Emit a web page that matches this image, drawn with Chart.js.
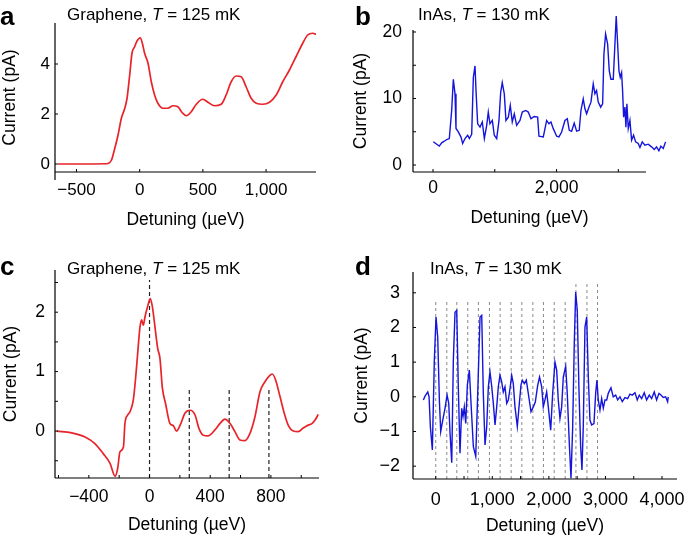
<!DOCTYPE html>
<html><head><meta charset="utf-8">
<script src="https://cdn.jsdelivr.net/npm/chart.js@4.4.0/dist/chart.umd.min.js"></script>
<style>
body{margin:0;background:#fff;width:685px;height:535px;position:relative;overflow:hidden;font-family:"Liberation Sans",Arial,sans-serif;color:#000;}
canvas{position:absolute;}
.lbl{position:absolute;font-weight:bold;font-size:26px;line-height:1;}
.ttl{position:absolute;font-size:17px;line-height:1;white-space:nowrap;}
</style></head><body>
<canvas id="ca" width="335" height="240" style="left:0;top:0"></canvas>
<canvas id="cb" width="345" height="240" style="left:340px;top:0"></canvas>
<canvas id="cc" width="335" height="285" style="left:0;top:250px"></canvas>
<canvas id="cd" width="345" height="285" style="left:340px;top:250px"></canvas>
<div class="lbl" style="left:0;top:3px">a</div>
<div class="ttl" style="left:67px;top:6px">Graphene, <i>T</i> = 125 mK</div>
<div class="lbl" style="left:355px;top:3px">b</div>
<div class="ttl" style="left:418px;top:6px">InAs, <i>T</i> = 130 mK</div>
<div class="lbl" style="left:0;top:253px">c</div>
<div class="ttl" style="left:67px;top:260px">Graphene, <i>T</i> = 125 mK</div>
<div class="lbl" style="left:355px;top:253px">d</div>
<div class="ttl" style="left:430px;top:260px">InAs, <i>T</i> = 130 mK</div>
<script>
// ---- Panel a: Graphene ----
const aDetuning = [-645,-263,-223,-197,-171,-145,-118,-100,-79,-61,-40,-21,5,21,39,66,92,118,144,184,223,263,302,337,369,408,448,500,540,592,645,684,724,763,803,842,882,922,975,1027,1080,1132,1185,1237,1290,1329,1369,1395];
const aCurrent = [0,0.01,0.16,0.63,1.16,1.83,2.23,2.63,3.56,4.43,4.69,4.92,5.05,4.83,4.43,4.03,3.29,2.76,2.43,2.23,2.23,2.33,2.29,2.05,1.93,2.09,2.39,2.59,2.47,2.33,2.39,2.76,3.29,3.52,3.49,3.09,2.63,2.43,2.39,2.47,2.76,3.29,3.76,4.29,4.83,5.16,5.23,5.19];
const aXTicks = [-500,0,500,1000];
const aXLabels = [-500,0,500,1000];
const aYTicks = [0,2,4];
const aYLabels = [0,2,4];

// ---- Panel b: InAs ----
const bDetuning = [5,60,102,140,183,221,264,302,329,356,372,410,453,480,518,561,588,626,653,680,696,723,761,798,831,869,895,922,960,992,1031,1068,1095,1121,1154,1181,1219,1251,1283,1316,1354,1408,1445,1500,1542,1586,1639,1694,1715,1785,1840,1877,1909,1947,2002,2039,2082,2136,2174,2206,2244,2286,2325,2367,2395,2432,2460,2487,2524,2557,2594,2621,2648,2675,2714,2746,2767,2794,2827,2853,2880,2918,2945,2966,2989,3010,3031,3053,3069,3086,3107,3123,3139,3161,3188,3215,3247,3280,3322,3350,3387,3430,3484,3538,3581,3619,3657,3689,3727,3765];
const bCurrent = [3.5,3.13,2.84,3.33,3.58,3.83,3.98,8.2,12.9,10.7,5.5,4.97,4.2,3.23,3.98,4.48,3.98,4.63,13.2,14.9,11.2,6.2,5.7,6.47,3.98,5.97,7.96,6.2,6.7,4.48,3.98,6.7,10.9,12.4,10.7,6.7,7.2,8.96,6.47,7.7,5.97,6.7,7.96,8.2,7.96,6.97,7.3,7.2,4.33,4.23,6.7,6.2,6.47,5.47,4.33,4.23,4.97,6.7,6.97,5.22,5.07,6.3,5.1,5.22,8.2,9.96,8.46,7.7,8.7,9.45,12.2,10.7,11.2,9.45,8.7,9.2,16.7,19.7,18.2,14.2,12.9,12.9,18.2,22.4,18.2,14.2,13.2,13.9,11.2,7.2,8.7,5.7,9.2,5.47,6.7,3.73,4.48,3.48,3.23,2.64,3.48,2.98,3.13,2.73,2.34,2.73,2.14,2.84,2.49,3.48];
const bXTicks = [0,1000,2000,3000];
const bXLabels = [0,2000];
const bYTicks = [0,5,10,15,20];
const bYLabels = [0,10,20];

// ---- Panel c: Graphene (background subtracted) ----
const cDetuning = [-611,-513,-425,-360,-305,-261,-227,-210,-195,-172,-162,-144,-128,-107,-91,-73,-63,-52,-41,-30,-13,5,19,36,54,69,84,106,134,157,178,207,233,267,300,325,354,387,431,465,497,530,563,596,629,662,695,728,761,787,809,831,860,888,914,948,980,1013,1046,1068,1090,1112];
const cCurrent = [0.0,-0.03,-0.1,-0.21,-0.38,-0.54,-0.76,-0.63,-0.35,-0.27,0.13,0.27,0.33,0.52,0.91,1.47,1.75,1.87,1.78,1.92,2.09,2.23,2.09,1.75,1.39,1.22,0.74,0.46,0.13,0.09,0.0,0.13,0.3,0.35,0.27,0.05,-0.07,-0.08,0.02,0.13,0.2,0.13,-0.01,-0.15,-0.16,-0.04,0.24,0.66,0.83,0.92,0.96,0.86,0.58,0.3,0.1,0.0,-0.01,0.05,0.1,0.12,0.18,0.28];
const cMarkers = [0,262,525,787];
const cMarkerTops = [2.54,0.69,0.69,0.69];
const cXTicks = [-600,-400,-200,0,200,400,600,800,1000];
const cXLabels = [-400,0,400,800];
const cYTicks = [-0.5,0,0.5,1,1.5,2,2.5];
const cYLabels = [0,1,2];

// ---- Panel d: InAs (background subtracted) ----
const dDetuning = [-219,-189,-141,-118,-95,-60,-25,5,35,64,88,124,164,200,230,253,283,311,341,371,399,429,459,482,505,530,559,594,624,665,707,742,783,813,841,871,901,930,959,990,1018,1048,1078,1106,1136,1166,1194,1224,1255,1283,1313,1343,1371,1401,1442,1472,1507,1530,1566,1601,1636,1684,1725,1760,1802,1835,1873,1901,1931,1961,1990,2032,2067,2108,2138,2166,2196,2226,2255,2297,2325,2361,2391,2421,2449,2474,2502,2532,2562,2585,2608,2638,2668,2697,2726,2756,2797,2827,2850,2873,2903,2933,2962,2992,3022,3050,3098,3138,3181,3216,3257,3297,3345,3393,3433,3474,3522,3562,3598,3640,3686,3728,3775,3817,3863,3905,3946,3981,4022,4064,4099,4110];
const dCurrent = [-0.09,0.02,0.14,0,-0.86,-1.53,1.05,2.3,1.72,-0.09,-1.0,-0.67,-0.33,0.05,-0.19,-1.05,-1.9,1.05,2.44,2.49,0.29,-1.63,-0.33,-0.57,-0.29,-0.77,0.34,0.77,-0.19,-1.44,-1.72,0.1,2.3,2.35,0.1,-1.39,-0.86,0.29,0.72,0.29,-0.19,-0.81,-0.29,0.29,0.62,0.43,0.14,0.29,-0.19,-0.09,0.24,0.62,0.38,-0.29,-0.86,-0.29,0.34,0.48,0.38,0.48,0.1,-0.43,-0.29,-0.15,0.33,0.57,0.29,-0.29,-0.09,0.14,-0.29,-0.96,0.1,1.0,0.77,-0.09,-0.62,-0.29,0.57,0.88,0.1,-1.34,-2.35,-0.86,1.53,3.02,2.49,0.19,-1.44,-2.11,-0.86,2.01,2.3,0.57,-0.67,-0.81,-0.77,0.1,0.48,-0.09,-0.38,-0.05,-0.33,-0.09,-0.09,0.1,0.26,0,0.05,-0.09,0,-0.14,-0.02,-0.05,0.08,0.05,0.12,-0.09,0.05,-0.05,0.12,-0.09,0.05,-0.05,0.14,-0.09,0.1,0.05,-0.02,0,-0.14,0];
const dMarkers = [0,195,372,566,754,949,1138,1333,1522,1717,1904,2094,2288,2478,2673,2860];
const dMarkerTops = [2.77,2.77,2.77,2.77,2.77,2.77,2.77,2.77,2.77,2.77,2.77,2.77,2.77,3.29,3.29,3.29];
const dXTicks = [0,500,1000,1500,2000,2500,3000,3500,4000];
const dXLabels = [0,1000,2000,3000,4000];
const dYTicks = [-2,-1,0,1,2,3];
const dYLabels = [-2,-1,0,1,2,3];

const FF = '"Liberation Sans", Arial, sans-serif';
const RED = '#e8242a';
const BLUE = '#1414dc';
const X_TITLE = 'Detuning (\u00b5eV)';

function fmt(v){
  const s = Math.abs(v).toLocaleString('en-US');
  return v < 0 ? '\u2212' + s : s;
}
function pts(xs, ys){ return xs.map((x,i)=>({x:x, y:ys[i]})); }
function markerSets(xs, tops, bottom, color, dash, width){
  return xs.map((x,i)=>({data:[{x:x,y:bottom},{x:x,y:tops[i]}], showLine:true, borderColor:color,
    borderWidth:width, borderDash:dash, pointRadius:0, order:1}));
}

function makePanel(id, c){
  const axesPlugin = {
    id:'inwardAxes',
    afterDraw(chart){
      const ctx = chart.ctx, a = chart.chartArea, xs = chart.scales.x, ys = chart.scales.y;
      const xEnd = (c.xLineMax !== undefined) ? xs.getPixelForValue(c.xLineMax) : a.right;
      const yTop = (c.yLineMax !== undefined) ? ys.getPixelForValue(c.yLineMax) : a.top;
      ctx.save();
      ctx.strokeStyle = '#000'; ctx.lineWidth = 1.2;
      ctx.beginPath();
      ctx.moveTo(a.left, yTop); ctx.lineTo(a.left, a.bottom + (c.yExt||0));
      ctx.moveTo(a.left, a.bottom); ctx.lineTo(xEnd, a.bottom);
      ctx.stroke();
      ctx.lineWidth = 1;
      ctx.beginPath();
      xs.ticks.forEach(t=>{ const p = xs.getPixelForValue(t.value); ctx.moveTo(p, a.bottom); ctx.lineTo(p, a.bottom - 3); });
      ys.ticks.forEach(t=>{ const p = ys.getPixelForValue(t.value); ctx.moveTo(a.left, p); ctx.lineTo(a.left + 3, p); });
      ctx.stroke();
      if (c.customXTitleY !== undefined) {
        ctx.fillStyle = '#000';
        ctx.font = '17.5px ' + FF;
        ctx.textAlign = 'center';
        ctx.textBaseline = 'middle';
        ctx.fillText(X_TITLE, (a.left + xEnd) / 2, c.customXTitleY);
      }
      ctx.restore();
    }
  };
  return new Chart(document.getElementById(id), {
    type:'scatter',
    data:{datasets:c.datasets},
    options:{
      responsive:false, animation:false, events:[],
      layout:{padding:{top:c.padTop, right:c.padRight, left:0, bottom:0}},
      plugins:{legend:{display:false}, tooltip:{enabled:false}},
      scales:{
        x:{type:'linear', position:'bottom', min:c.xMin, max:c.xMax,
          grid:{display:false, drawTicks:false}, border:{display:false},
          afterBuildTicks:s=>{ s.ticks = c.xTicks.map(v=>({value:v})); },
          afterFit:s=>{ s.height = c.xH; s.paddingLeft = 0; s.paddingRight = 0; },
          ticks:{autoSkip:false, maxRotation:0, minRotation:0, padding:c.xTickPad, color:'#000',
            font:{size:c.fs, family:FF}, callback:v=> c.xLabels.includes(v) ? fmt(v) : ''},
          title:{display:c.customXTitleY === undefined, text:X_TITLE, color:'#000', font:{size:17.5, family:FF},
            padding:{top:0, bottom:c.xTitlePad}}
        },
        y:{type:'linear', position:'left', min:c.yMin, max:c.yMax,
          grid:{display:false, drawTicks:false}, border:{display:false},
          afterBuildTicks:s=>{ s.ticks = c.yTicks.map(v=>({value:v})); },
          afterFit:s=>{ s.width = c.yW; s.paddingTop = 0; s.paddingBottom = 0; },
          ticks:{autoSkip:false, padding:c.yTickPad, color:'#000',
            font:{size:c.fs, family:FF}, callback:v=> c.yLabels.includes(v) ? fmt(v) : ''},
          title:{display:true, text:'Current (pA)', color:'#000', font:{size:17.5, family:FF},
            padding:{top:c.yTitlePad, bottom:0}}
        }
      }
    },
    plugins:[axesPlugin]
  });
}

makePanel('ca', {
  datasets:[{data:pts(aDetuning,aCurrent), showLine:true, borderColor:RED, borderWidth:1.7, pointRadius:0,
    cubicInterpolationMode:'monotone', order:0}],
  xMin:-670, xMax:1395, yMin:-0.32, yMax:5.64,
  xTicks:aXTicks, xLabels:aXLabels, yTicks:aYTicks, yLabels:aYLabels,
  padTop:23, padRight:19, yW:55, xH:68, fs:17, xTickPad:8, xTitlePad:9, yTickPad:5, yTitlePad:0, yExt:8
});

makePanel('cb', {
  datasets:[{data:pts(bDetuning,bCurrent), showLine:true, borderColor:BLUE, borderWidth:1.4, pointRadius:0,
    tension:0, clip:false, order:0}],
  xMin:-324, xMax:3780, yMin:-1.05, yMax:20.3, xLineMax:3448, customXTitleY:218,
  xTicks:bXTicks, xLabels:bXLabels, yTicks:bYTicks, yLabels:bYLabels,
  padTop:30, padRight:18.5, yW:73, xH:68, fs:17.5, xTickPad:6, xTitlePad:10, yTickPad:11, yTitlePad:11, yExt:0
});

makePanel('cc', {
  datasets:[{data:pts(cDetuning,cCurrent), showLine:true, borderColor:RED, borderWidth:1.7, pointRadius:0,
    cubicInterpolationMode:'monotone', order:0}].concat(markerSets(cMarkers, cMarkerTops, -0.79, '#222', [4,3], 1.2)),
  xMin:-623, xMax:1117, yMin:-0.79, yMax:2.71,
  xTicks:cXTicks, xLabels:cXLabels, yTicks:cYTicks, yLabels:cYLabels,
  padTop:20, padRight:16, yW:55, xH:57, fs:17.5, xTickPad:9, xTitlePad:-1, yTickPad:10, yTitlePad:1, yExt:0
});

makePanel('cd', {
  datasets:[{data:pts(dDetuning,dCurrent), showLine:true, borderColor:BLUE, borderWidth:1.4, pointRadius:0,
    tension:0, clip:false, order:0}].concat(markerSets(dMarkers, dMarkerTops, -2.37, '#8a8a8a', [3,3], 1)),
  xMin:-402, xMax:4265, yMin:-2.37, yMax:3.6,
  xTicks:dXTicks, xLabels:dXLabels, yTicks:dYTicks, yLabels:dYLabels,
  padTop:22, padRight:8, yW:73, xH:56, fs:18, xTickPad:10, xTitlePad:-2, yTickPad:13, yTitlePad:12, yExt:0
});
</script>
</body></html>
